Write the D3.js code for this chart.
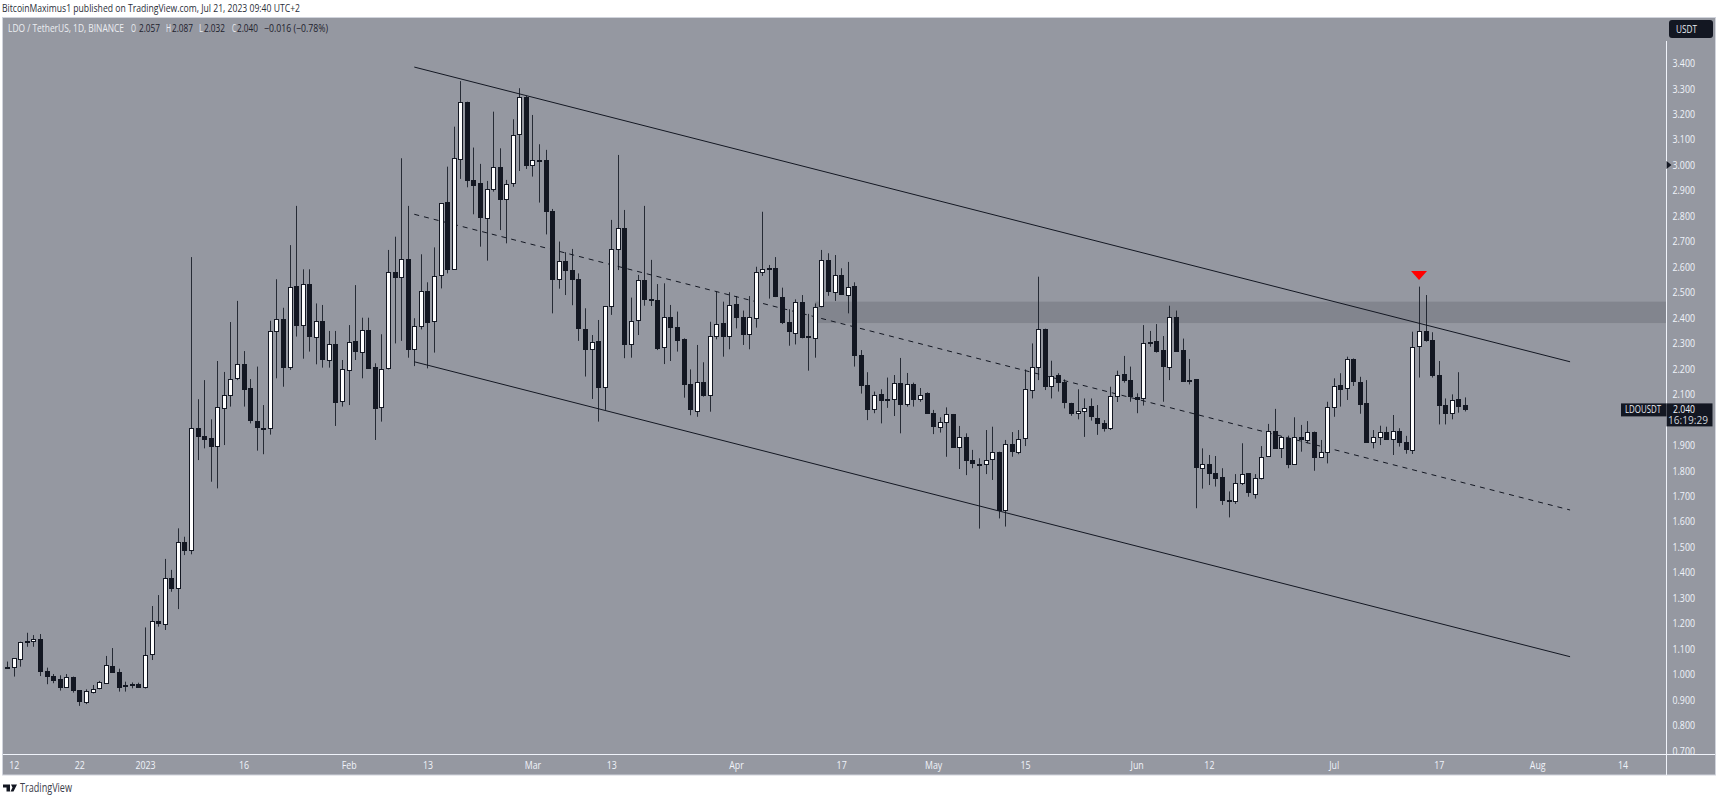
<!DOCTYPE html>
<html>
<head>
<meta charset="utf-8">
<script src="https://cdn.jsdelivr.net/npm/d3@7"></script>
<style>
  html, body { margin: 0; padding: 0; background: #fff; overflow: hidden; }
  svg { display: block; font-family: "Open Sans", "Noto Sans", sans-serif; }
</style>
</head>
<body>
<div id="chart"></div>
<script>
// daily candles, Dec 11 2022 -> Jul 21 2023
var firstDay = Date.UTC(2022, 11, 11);

var opens = [
  1.025,1.027,1.063,1.128,1.133,1.140,1.014,.993,.980,.949,
  .988,.938,.893,.933,.944,.968,1.034,1.010,.953,.958,
  .963,.951,1.078,1.208,1.200,1.379,1.338,1.518,1.487,1.967,
  1.937,1.926,1.894,2.048,2.099,2.162,2.218,2.123,1.996,1.968,
  1.967,2.348,2.394,2.208,2.524,2.371,2.531,2.326,2.388,2.237,
  2.298,2.070,2.197,2.307,2.267,2.353,2.208,2.048,2.201,2.578,
  2.559,2.631,2.277,2.369,2.506,2.390,2.566,2.853,2.594,3.026,
  3.248,2.941,2.928,2.793,2.908,2.993,2.869,2.927,3.120,3.268,
  3.002,3.020,3.019,2.819,2.551,2.623,2.587,2.551,2.357,2.277,
  2.307,2.128,2.447,2.669,2.751,2.298,2.390,2.549,2.473,2.471,
  2.284,2.403,2.365,2.315,2.140,2.036,2.149,2.099,2.330,2.379,
  2.326,2.454,2.403,2.335,2.401,2.581,2.595,2.594,2.481,2.382,
  2.341,2.462,2.327,2.323,2.443,2.625,2.502,2.566,2.490,2.523,
  2.254,2.136,2.044,2.099,2.076,2.081,2.145,2.061,2.140,2.083,
  2.103,2.025,1.970,1.989,2.022,1.894,1.932,1.841,1.827,1.828,
  1.844,1.874,1.645,1.903,1.875,1.926,2.119,2.208,2.357,2.132,
  2.175,2.146,2.066,2.025,2.036,2.052,2.008,1.988,1.970,2.095,
  2.178,2.154,2.090,2.082,2.301,2.310,2.272,2.208,2.403,2.272,
  2.154,2.158,1.813,1.827,1.792,1.773,1.683,1.683,1.754,1.789,
  1.710,1.771,1.857,1.954,1.886,1.929,1.828,1.932,1.923,1.953,
  1.856,1.875,2.052,2.137,2.123,2.237,2.149,2.064,1.911,1.932,
  1.951,1.921,1.955,1.911,1.883,2.288,2.347,2.312,2.174,2.057,
  2.027,2.081,2.057
];
var highs = [
  1.050,1.063,1.128,1.163,1.154,1.158,1.026,1.001,.996,1.001,
  .991,.938,.941,.958,.974,1.072,1.103,1.022,.971,.968,
  .967,1.184,1.268,1.311,1.453,1.410,1.573,1.540,2.638,2.080,
  2.155,2.001,2.230,2.187,2.383,2.466,2.269,2.159,2.208,2.057,
  2.388,2.551,2.439,2.685,2.839,2.590,2.590,2.456,2.450,2.348,
  2.348,2.234,2.371,2.528,2.400,2.400,2.221,2.335,2.666,2.718,
  3.026,2.839,2.398,2.649,2.539,2.676,2.849,2.993,3.150,3.329,
  3.248,3.068,3.004,2.937,3.209,3.065,2.941,3.179,3.301,3.271,
  3.196,3.081,3.059,2.827,2.699,2.657,2.670,2.574,2.437,2.332,
  2.391,2.446,2.784,3.039,2.823,2.479,2.568,2.839,2.627,2.532,
  2.535,2.450,2.424,2.319,2.197,2.293,2.225,2.384,2.502,2.463,
  2.500,2.485,2.428,2.485,2.600,2.816,2.607,2.638,2.518,2.433,
  2.472,2.489,2.415,2.456,2.666,2.653,2.646,2.594,2.619,2.539,
  2.273,2.186,2.110,2.119,2.165,2.175,2.242,2.183,2.145,2.124,
  2.107,2.038,2.009,2.048,2.022,1.975,1.946,1.881,1.848,1.959,
  1.972,1.874,1.920,1.951,1.959,2.197,2.299,2.561,2.357,2.231,
  2.182,2.158,2.066,2.119,2.083,2.083,2.057,1.998,2.129,2.192,
  2.250,2.208,2.103,2.371,2.348,2.375,2.328,2.447,2.428,2.318,
  2.238,2.158,1.887,1.861,1.857,1.809,1.718,1.786,1.907,1.789,
  1.786,1.896,1.983,2.042,1.936,1.937,2.009,1.979,1.994,1.953,
  1.920,2.070,2.162,2.182,2.247,2.240,2.168,2.155,1.959,1.976,
  1.972,2.018,1.966,1.936,2.345,2.522,2.489,2.343,2.230,2.083,
  2.099,2.186,2.087
];
var lows = [
  1.022,.991,1.030,1.108,1.108,.993,.961,.965,.936,.949,
  .928,.876,.883,.925,.941,.965,1.006,.932,.932,.945,
  .949,.944,1.056,1.187,1.174,1.324,1.256,1.468,1.471,1.841,
  1.887,1.756,1.730,1.900,2.051,2.155,2.051,1.985,1.878,1.864,
  1.941,2.162,2.129,2.195,2.326,2.239,2.267,2.217,2.204,2.204,
  1.975,2.051,2.057,2.234,2.162,2.201,1.920,1.992,2.197,2.299,
  2.309,2.243,2.210,2.354,2.201,2.263,2.515,2.574,2.594,2.945,
  2.912,2.806,2.679,2.624,2.895,2.744,2.692,2.914,2.976,2.984,
  2.954,2.852,2.727,2.417,2.514,2.489,2.449,2.309,2.169,2.081,
  1.992,2.038,2.411,2.587,2.241,2.243,2.332,2.447,2.446,2.273,
  2.218,2.230,2.267,2.086,2.017,2.011,2.090,2.031,2.315,2.247,
  2.276,2.358,2.293,2.276,2.361,2.564,2.475,2.481,2.375,2.290,
  2.295,2.319,2.192,2.243,2.441,2.486,2.466,2.489,2.417,2.208,
  2.102,1.998,2.025,1.985,2.046,2.014,1.946,2.051,2.051,2.070,
  2.022,1.943,1.949,1.854,1.894,1.806,1.782,1.809,1.572,1.786,
  1.763,1.612,1.580,1.854,1.864,1.896,2.083,2.155,2.116,2.083,
  2.110,2.044,2.015,2.001,1.932,1.996,1.940,1.953,1.959,2.069,
  2.145,2.070,2.025,2.055,2.286,2.263,2.070,2.155,2.267,2.151,
  2.138,1.652,1.729,1.743,1.737,1.665,1.616,1.669,1.743,1.697,
  1.690,1.765,1.854,1.886,1.849,1.809,1.822,1.874,1.907,1.799,
  1.854,1.828,2.011,2.051,2.077,2.132,2.023,1.911,1.887,1.900,
  1.920,1.861,1.894,1.866,1.865,2.165,2.306,2.165,1.981,1.981,
  2.001,2.027,2.032
];
var closes = [
  1.027,1.063,1.128,1.132,1.140,1.014,.993,.978,.949,.988,
  .936,.893,.936,.944,.968,1.037,1.010,.951,.957,.963,
  .951,1.077,1.208,1.201,1.379,1.338,1.518,1.487,1.967,1.937,
  1.925,1.894,2.048,2.098,2.161,2.218,2.119,1.996,1.972,1.966,
  2.346,2.394,2.204,2.522,2.371,2.531,2.326,2.388,2.239,2.298,
  2.070,2.197,2.306,2.267,2.353,2.205,2.048,2.197,2.578,2.557,
  2.631,2.277,2.368,2.506,2.385,2.565,2.849,2.591,3.028,3.248,
  2.941,2.922,2.793,2.907,2.993,2.867,2.926,3.116,3.265,3.000,
  3.020,3.018,2.819,2.552,2.621,2.587,2.552,2.357,2.277,2.306,
  2.128,2.446,2.669,2.751,2.297,2.388,2.549,2.474,2.471,2.282,
  2.403,2.365,2.313,2.140,2.040,2.149,2.096,2.330,2.377,2.326,
  2.449,2.403,2.335,2.401,2.581,2.593,2.592,2.484,2.382,2.345,
  2.462,2.326,2.325,2.443,2.625,2.502,2.569,2.490,2.522,2.254,
  2.136,2.042,2.098,2.074,2.080,2.142,2.061,2.138,2.083,2.098,
  2.023,1.972,1.989,2.022,1.894,1.932,1.841,1.828,1.825,1.843,
  1.873,1.648,1.903,1.875,1.925,2.119,2.208,2.357,2.132,2.171,
  2.149,2.068,2.025,2.034,2.047,2.011,1.988,1.970,2.094,2.176,
  2.154,2.090,2.081,2.299,2.306,2.271,2.208,2.403,2.271,2.151,
  2.152,1.811,1.827,1.792,1.773,1.682,1.681,1.752,1.788,1.713,
  1.771,1.854,1.954,1.888,1.930,1.827,1.933,1.924,1.953,1.853,
  1.874,2.051,2.133,2.121,2.237,2.149,2.062,1.911,1.932,1.953,
  1.923,1.954,1.911,1.882,2.286,2.347,2.310,2.175,2.057,2.027,
  2.078,2.055,2.040
];

// 2.000 sits under the last price label, so it never shows
var priceTicks = [3.4,3.3,3.2,3.1,3.0,2.9,2.8,2.7,2.6,2.5,2.4,2.3,2.2,2.1,1.9,1.8,1.7,1.6,1.5,1.4,1.3,1.2,1.1,1.0,0.9,0.8,0.7];
var timeTickDates = ["2022-12-12","2022-12-22","2023-01-01","2023-01-16","2023-02-01","2023-02-13","2023-03-01","2023-03-13","2023-04-01","2023-04-17","2023-05-01","2023-05-15","2023-06-01","2023-06-12","2023-07-01","2023-07-17","2023-08-01","2023-08-14"];
var timeTickLabels = ["12","22","2023","16","Feb","13","Mar","13","Apr","17","May","15","Jun","12","Jul","17","Aug","14"];

// channel, drawn by hand on the chart: [date, price] ends
var channelDates = ["2023-02-11","2023-08-06"];
var channelUpper = [3.384,2.227];
var channelMiddle = [2.806,1.645];
var channelLower = [2.227,1.069];
var zoneStart = "2023-04-13";
var zonePrices = [2.463,2.379];
var arrowDate = "2023-07-14";
var arrowPrices = [2.583,2.548];

var lastPrice = 2.040;
var countdown = "16:19:29";
var legendTexts = ["LDO / TetherUS, 1D, BINANCE","O","2.057","H","2.087","L","2.032","C","2.040","\u22120.016 (\u22120.78%)"];
var legendLeft = [8,131,139,166,172,199,204,232,237,264];
var legendWidth = [116,5,21,5,21,4,21,4,21,64];

var W = 1719, H = 798;
var BG = "#9598a1", DARK = "#131722", EDGE = "#d1d4dc", LIGHT = "#f0f3fa";
var axisX = 1666.5, axisY = 754.5;
var SQUEEZE = 0.8; // the labels are narrow in the original

var candles = opens.map(function(o, i){
  return { date: new Date(firstDay + i * 864e5), open: o, high: highs[i], low: lows[i], close: closes[i] };
});

var x = d3.scaleUtc()
  .domain([new Date(Date.UTC(2022, 11, 12)), new Date(Date.UTC(2023, 6, 21))])
  .range([13.7, 1465]);
var y = d3.scaleLinear().domain([3.4, 0.7]).range([63, 750.7]);

var svg = d3.select("#chart").append("svg").attr("width", W).attr("height", H);

function fitWidth(sel, width){
  sel.attr("textLength", width).attr("lengthAdjust", "spacingAndGlyphs");
}
function squeeze(sel){
  sel.each(function(){
    d3.select(this).call(fitWidth, this.getComputedTextLength() * SQUEEZE);
  });
}

svg.append("text").attr("x", 2).attr("y", 11.5).attr("font-size", 11).attr("fill", "#2a2e39")
  .text("BitcoinMaximus1 published on TradingView.com, Jul 21, 2023 09:40 UTC+2")
  .call(fitWidth, 298);

svg.append("rect").attr("x", 2.5).attr("y", 17.5).attr("width", 1713).attr("height", 757.5)
  .attr("fill", BG).attr("stroke", EDGE);

svg.append("clipPath").attr("id", "scaleclip").append("rect")
  .attr("x", axisX).attr("y", 18).attr("width", 49).attr("height", axisY - 18);

// resistance zone
svg.append("rect").attr("x", x(new Date(zoneStart))).attr("y", y(zonePrices[0]))
  .attr("width", axisX - x(new Date(zoneStart))).attr("height", y(zonePrices[1]) - y(zonePrices[0]))
  .attr("fill", "#82858e");

// channel lines, candles go on top of them
var channelX = channelDates.map(function(d){ return x(new Date(d)); });
[channelUpper, channelLower, channelMiddle].forEach(function(p, i){
  svg.append("line")
    .attr("x1", channelX[0]).attr("x2", channelX[1])
    .attr("y1", y(p[0])).attr("y2", y(p[1]))
    .attr("stroke", DARK).attr("stroke-width", 1)
    .attr("stroke-dasharray", i == 2 ? "5 5" : null);
});

// candles
var g = svg.append("g").selectAll("g").data(candles).enter().append("g");
g.append("line")
  .attr("x1", function(d){ return Math.round(x(d.date)) + 0.5; })
  .attr("x2", function(d){ return Math.round(x(d.date)) + 0.5; })
  .attr("y1", function(d){ return y(d.high); })
  .attr("y2", function(d){ return y(d.low); })
  .attr("stroke", DARK).attr("stroke-opacity", 0.85);
g.append("rect")
  .attr("x", function(d){ return Math.round(x(d.date)) - 1.5; })
  .attr("y", function(d){ return Math.round(y(Math.max(d.open, d.close))) + 0.5; })
  .attr("width", 4)
  .attr("height", function(d){ return Math.max(1, Math.round(Math.abs(y(d.open) - y(d.close)))); })
  .attr("fill", function(d){ return d.close >= d.open ? "#ffffff" : DARK; })
  .attr("stroke", DARK);

// red arrow over the rejection
var ax = x(new Date(arrowDate));
svg.append("path")
  .attr("d", "M" + (ax - 8) + "," + y(arrowPrices[0]) + "L" + (ax + 8) + "," + y(arrowPrices[0]) + "L" + ax + "," + y(arrowPrices[1]) + "Z")
  .attr("fill", "#ff0000");

// scales
svg.append("line").attr("x1", axisX).attr("x2", axisX).attr("y1", 41).attr("y2", 775).attr("stroke", LIGHT);
svg.append("line").attr("x1", 3).attr("x2", 1715).attr("y1", axisY).attr("y2", axisY).attr("stroke", LIGHT);

var yAxis = svg.append("g").attr("clip-path", "url(#scaleclip)")
  .append("g").attr("transform", "translate(" + axisX + ",0)")
  .call(d3.axisRight(y).tickValues(priceTicks).tickFormat(d3.format(".3f")).tickSize(0).tickPadding(6));
yAxis.select(".domain").remove();
yAxis.selectAll("text").attr("fill", LIGHT).attr("font-size", 11).attr("font-family", "'Open Sans', sans-serif").call(squeeze);

var xAxis = svg.append("g").attr("transform", "translate(0," + axisY + ")")
  .call(d3.axisBottom(x).tickValues(timeTickDates.map(function(d){ return new Date(d); }))
    .tickFormat(function(d, i){ return timeTickLabels[i]; }).tickSize(0).tickPadding(7));
xAxis.select(".domain").remove();
xAxis.selectAll("text").attr("fill", LIGHT).attr("font-size", 11).attr("font-family", "'Open Sans', sans-serif").call(squeeze);

// small marker on the price scale
svg.append("path")
  .attr("d", "M" + axisX + "," + (y(3.0) - 4) + "L" + (axisX + 5) + "," + y(3.0) + "L" + axisX + "," + (y(3.0) + 4) + "Z")
  .attr("fill", DARK);

// currency badge
svg.append("rect").attr("x", 1669).attr("y", 20).attr("width", 44).attr("height", 18).attr("rx", 3).attr("fill", DARK);
svg.append("text").attr("x", 1676).attr("y", 33).attr("font-size", 11).attr("fill", "#e8eaf0").text("USDT").call(fitWidth, 21);

// last price labels
var py = y(lastPrice);
svg.append("rect").attr("x", 1621).attr("y", py - 6).attr("width", axisX - 1621).attr("height", 13).attr("fill", DARK);
svg.append("text").attr("x", 1625).attr("y", py + 4).attr("font-size", 11).attr("fill", "#e8eaf0").text("LDOUSDT").call(fitWidth, 36);
svg.append("rect").attr("x", axisX).attr("y", py - 6).attr("width", 46).attr("height", 23).attr("fill", DARK);
svg.append("text").attr("x", 1673).attr("y", py + 3.5).attr("font-size", 10).attr("fill", LIGHT).text(d3.format(".3f")(lastPrice)).call(fitWidth, 22);
svg.append("text").attr("x", 1668).attr("y", py + 15).attr("font-size", 10).attr("fill", "#d1d4dc").text(countdown).call(fitWidth, 40);

// legend line
legendTexts.forEach(function(t, i){
  var isValue = i > 0 && (i % 2 == 0 || i == legendTexts.length - 1);
  svg.append("text").attr("x", legendLeft[i]).attr("y", 31.5).attr("font-size", 11)
    .attr("fill", isValue ? "#1e222d" : "#eceef2").text(t).call(fitWidth, legendWidth[i]);
});

// footer logo
svg.append("path")
  .attr("d", "M3,784.5H10V791.5H6.5V787.5H3ZM11,784.5H17L13.5,791.5H10.5L12.5,787.5")
  .attr("fill", DARK);
svg.append("text").attr("x", 20).attr("y", 791.5).attr("font-size", 12).attr("fill", "#3c404b").text("TradingView").call(fitWidth, 52);
</script>
</body>
</html>
